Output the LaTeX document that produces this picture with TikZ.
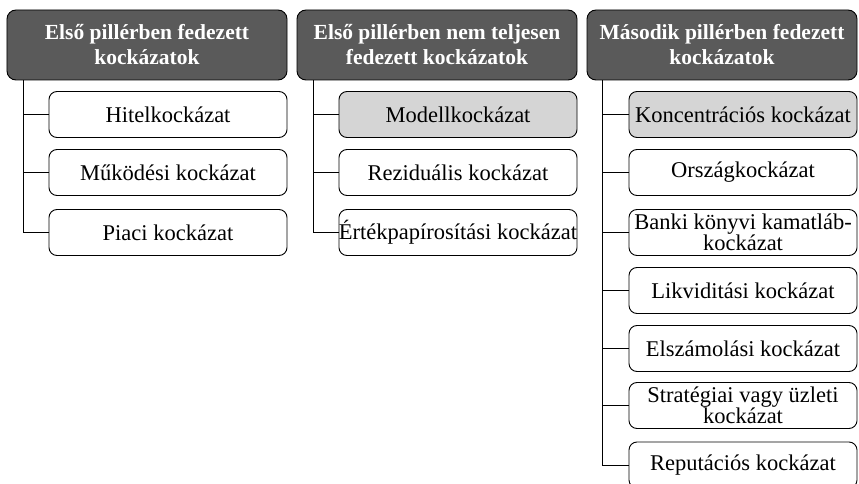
\documentclass[tikz,border=0pt]{standalone}
\usepackage{fontspec}
\setmainfont{Liberation Serif}
\definecolor{hdrfill}{HTML}{5A5A5A}
\definecolor{grayfill}{HTML}{D5D5D5}
\tikzset{
  hdr/.style={draw=black, line width=0.9bp, fill=hdrfill, rounded corners=9bp, inner sep=0pt,
    minimum height=70bp, align=center, text=white,
    font=\fontsize{21.5bp}{25bp}\selectfont\bfseries},
  item/.style={draw=black, line width=0.9bp, fill=white, rounded corners=8bp, inner sep=0pt,
    minimum height=46bp, align=center,
    font=\fontsize{22.5bp}{20bp}\selectfont},
  itemg/.style={item, fill=grayfill},
  w12/.style={minimum width=238bp},
  w3/.style={minimum width=228bp},
  conn/.style={draw=black, line width=0.9bp}
}
\begin{document}
\begin{tikzpicture}[x=1bp,y=-1bp]
\useasboundingbox (0,0) rectangle (859,484);
% headers
\node[hdr, minimum width=280bp] (h1) at (147,45) {Első pillérben fedezett\\kockázatok};
\node[hdr, minimum width=280bp] (h2) at (437,45) {Első pillérben nem teljesen\\fedezett kockázatok};
\node[hdr, minimum width=270bp] (h3) at (722,45) {Második pillérben fedezett\\kockázatok};
% column 1
\node[item, w12] (a1) at (168,114.5) {Hitelkockázat};
\node[item, w12] (a2) at (168,172.5) {Működési kockázat};
\node[item, w12] (a3) at (168,232.5) {Piaci kockázat};
% column 2
\node[itemg, w12] (b1) at (458,114.5) {Modellkockázat};
\node[item, w12] (b2) at (458,172.5) {Reziduális kockázat};
\node[item, w12] (b3) at (458,232.5) {Értékpapírosítási kockázat};
% column 3
\node[itemg, w3] (c1) at (743,114.5) {Koncentrációs kockázat};
\node[item, w3] (c2) at (743,172.5) {Országkockázat};
\node[item, w3] (c3) at (743,232.5) {Banki könyvi kamatláb-\\kockázat};
\node[item, w3] (c4) at (743,290.5) {Likviditási kockázat};
\node[item, w3] (c5) at (743,348.5) {Elszámolási kockázat};
\node[item, w3] (c6) at (743,405.5) {Stratégiai vagy üzleti\\kockázat};
\node[item, w3] (c7) at (743,465) {Reputációs kockázat};
% trunk coordinates
\coordinate (t1) at ([xshift=17bp]h1.south west);
\coordinate (t2) at ([xshift=17bp]h2.south west);
\coordinate (t3) at ([xshift=16bp]h3.south west);
% connectors
\draw[conn] (t1) |- (a3.west);
\draw[conn] (t1 |- a1.west) -- (a1.west);
\draw[conn] (t1 |- a2.west) -- (a2.west);
\draw[conn] (t2) |- (b3.west);
\draw[conn] (t2 |- b1.west) -- (b1.west);
\draw[conn] (t2 |- b2.west) -- (b2.west);
\draw[conn] (t3) |- (c7.west);
\foreach \n in {c1,c2,c3,c4,c5,c6}{\draw[conn] (t3 |- \n.west) -- (\n.west);}
\end{tikzpicture}
\end{document}
